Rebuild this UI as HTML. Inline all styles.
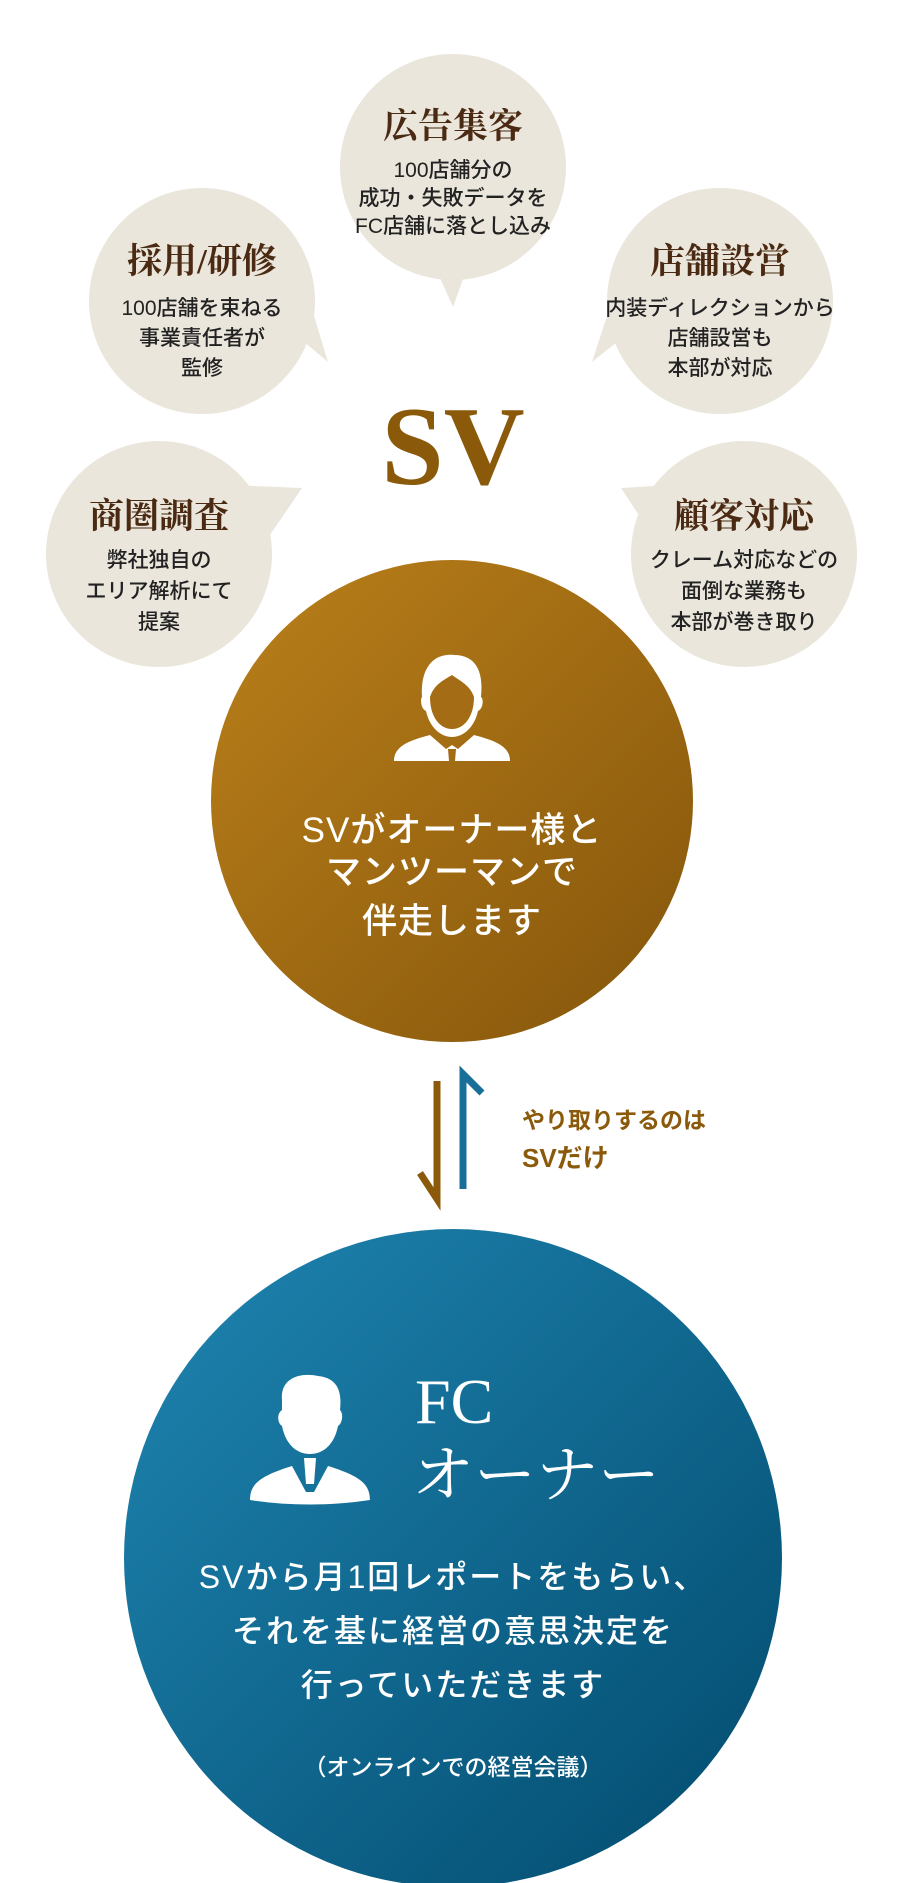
<!DOCTYPE html>
<html><head><meta charset="utf-8"><style>
html,body{margin:0;padding:0;background:#fff;}
svg{display:block;}
.t{font-family:"Liberation Serif","Noto Serif CJK SC",serif;font-weight:bold;fill:#4a2a12;font-size:35px;}
.b{font-family:"Liberation Sans","Noto Sans CJK JP",sans-serif;fill:#222;font-size:21px;font-weight:500;}
.w{font-family:"Liberation Sans","Noto Sans CJK JP",sans-serif;fill:#fff;font-weight:500;}
</style></head><body>
<svg width="903" height="1883" viewBox="0 0 903 1883" xmlns="http://www.w3.org/2000/svg">
<defs>
<linearGradient id="gb" x1="0" y1="0" x2="1" y2="1"><stop offset="0" stop-color="#bb801a"/><stop offset="1" stop-color="#84550b"/></linearGradient>
<linearGradient id="gl" x1="0" y1="0" x2="1" y2="1"><stop offset="0" stop-color="#1f86b2"/><stop offset="1" stop-color="#024a6d"/></linearGradient>
</defs>
<g fill="#ebe6dc">
<circle cx="453" cy="167" r="113"/><polygon points="432,260 470,260 453,307"/>
<circle cx="202" cy="301" r="113"/><polygon points="300,270 290,330 328,362"/>
<circle cx="720" cy="301" r="113"/><polygon points="622,270 632,330 592,362"/>
<circle cx="159" cy="554" r="113"/><polygon points="230,485 302,488 270,535"/>
<circle cx="744" cy="554" r="113"/><polygon points="672,485 621,488 652,535"/>
</g>
<text class="t" x="453" y="138" text-anchor="middle">広告集客</text>
<text class="b" x="453" y="177" text-anchor="middle">100店舗分の</text>
<text class="b" x="453" y="205" text-anchor="middle">成功・失敗データを</text>
<text class="b" x="453" y="233" text-anchor="middle">FC店舗に落とし込み</text>
<text class="t" x="202" y="273" text-anchor="middle">採用/研修</text>
<text class="b" x="202" y="315" text-anchor="middle">100店舗を束ねる</text>
<text class="b" x="202" y="345" text-anchor="middle">事業責任者が</text>
<text class="b" x="202" y="375" text-anchor="middle">監修</text>
<text class="t" x="720" y="273" text-anchor="middle">店舗設営</text>
<text class="b" x="720" y="315" text-anchor="middle">内装ディレクションから</text>
<text class="b" x="720" y="345" text-anchor="middle">店舗設営も</text>
<text class="b" x="720" y="375" text-anchor="middle">本部が対応</text>
<text class="t" x="159" y="528" text-anchor="middle">商圏調査</text>
<text class="b" x="159" y="567" text-anchor="middle">弊社独自の</text>
<text class="b" x="159" y="598" text-anchor="middle">エリア解析にて</text>
<text class="b" x="159" y="629" text-anchor="middle">提案</text>
<text class="t" x="744" y="528" text-anchor="middle">顧客対応</text>
<text class="b" x="744" y="567" text-anchor="middle">クレーム対応などの</text>
<text class="b" x="744" y="598" text-anchor="middle">面倒な業務も</text>
<text class="b" x="744" y="629" text-anchor="middle">本部が巻き取り</text>
<text x="453" y="484" text-anchor="middle" font-family="Liberation Serif,serif" font-weight="bold" font-size="112" fill="#8a5a0a">SV</text>
<circle cx="452" cy="801" r="241" fill="url(#gb)"/>
<g transform="translate(452,705)">
<path d="M-30,-8 C-32,-40 -16,-52 2,-50 C22,-50 32,-36 29,-8 C32,-6 31,4 26,6 C22,24 10,32 0,32 C-10,32 -22,24 -26,6 C-31,4 -32,-6 -30,-8Z" fill="#fff"/>
<path d="M-22,-8 C-18,-20 -10,-24 0,-30 C8,-24 18,-20 22,-8 C22,12 12,24 0,24 C-12,24 -22,12 -22,-8Z" fill="#a46c14"/>
<path d="M-58,56 C-58,42 -45,36 -22,30 L-6,44 L0,40 L6,44 L22,30 C45,36 58,42 58,56 Z" fill="#fff"/>
<path d="M-4,44 L4,44 L3,56 L-3,56Z" fill="#a46c14"/>
</g>
<g class="w" font-size="35" text-anchor="middle" letter-spacing="1">
<text x="452" y="842">SVがオーナー様と</text>
<text x="452" y="884">マンツーマンで</text>
<text x="452" y="933">伴走します</text>
</g>
<path d="M437,1081 L437,1199 L420,1173" fill="none" stroke="#8a5a0a" stroke-width="7"/>
<path d="M463,1189 L463,1074 L482,1093" fill="none" stroke="#1a6f98" stroke-width="7"/>
<g font-family="Liberation Sans,Noto Sans CJK JP,sans-serif" font-weight="bold" fill="#8a5a0a" font-size="23">
<text x="522" y="1128">やり取りするのは</text>
<text x="522" y="1167" font-size="26">SVだけ</text>
</g>
<circle cx="453" cy="1558" r="329" fill="url(#gl)"/>
<g transform="translate(310,1440)" fill="#fff">
<path d="M-28,-40 C-30,-62 -10,-68 8,-64 C28,-62 32,-48 30,-30 C34,-26 32,-16 28,-14 C24,6 12,14 0,14 C-12,14 -24,6 -28,-14 C-32,-16 -34,-26 -28,-30Z"/>
<path d="M-60,60 C-60,44 -50,36 -18,26 L-4,52 L4,52 L18,26 C50,36 60,44 60,60 C20,66 -20,66 -60,60Z"/>
<path d="M-6,18 L6,18 L4,44 L-4,44Z"/>
</g>
<text x="415" y="1423" font-family="Liberation Serif,serif" font-size="64" fill="#fff">FC</text>
<text x="412" y="1496" font-family="Liberation Serif,Noto Serif CJK SC,serif" font-size="62" fill="#fff">オーナー</text>
<g class="w" font-size="32" text-anchor="middle" letter-spacing="2">
<text x="453" y="1588">SVから月1回レポートをもらい、</text>
<text x="453" y="1642">それを基に経営の意思決定を</text>
<text x="453" y="1696">行っていただきます</text>
</g>
<text class="w" x="453" y="1775" font-size="23" text-anchor="middle">（オンラインでの経営会議）</text>
</svg>
</body></html>
